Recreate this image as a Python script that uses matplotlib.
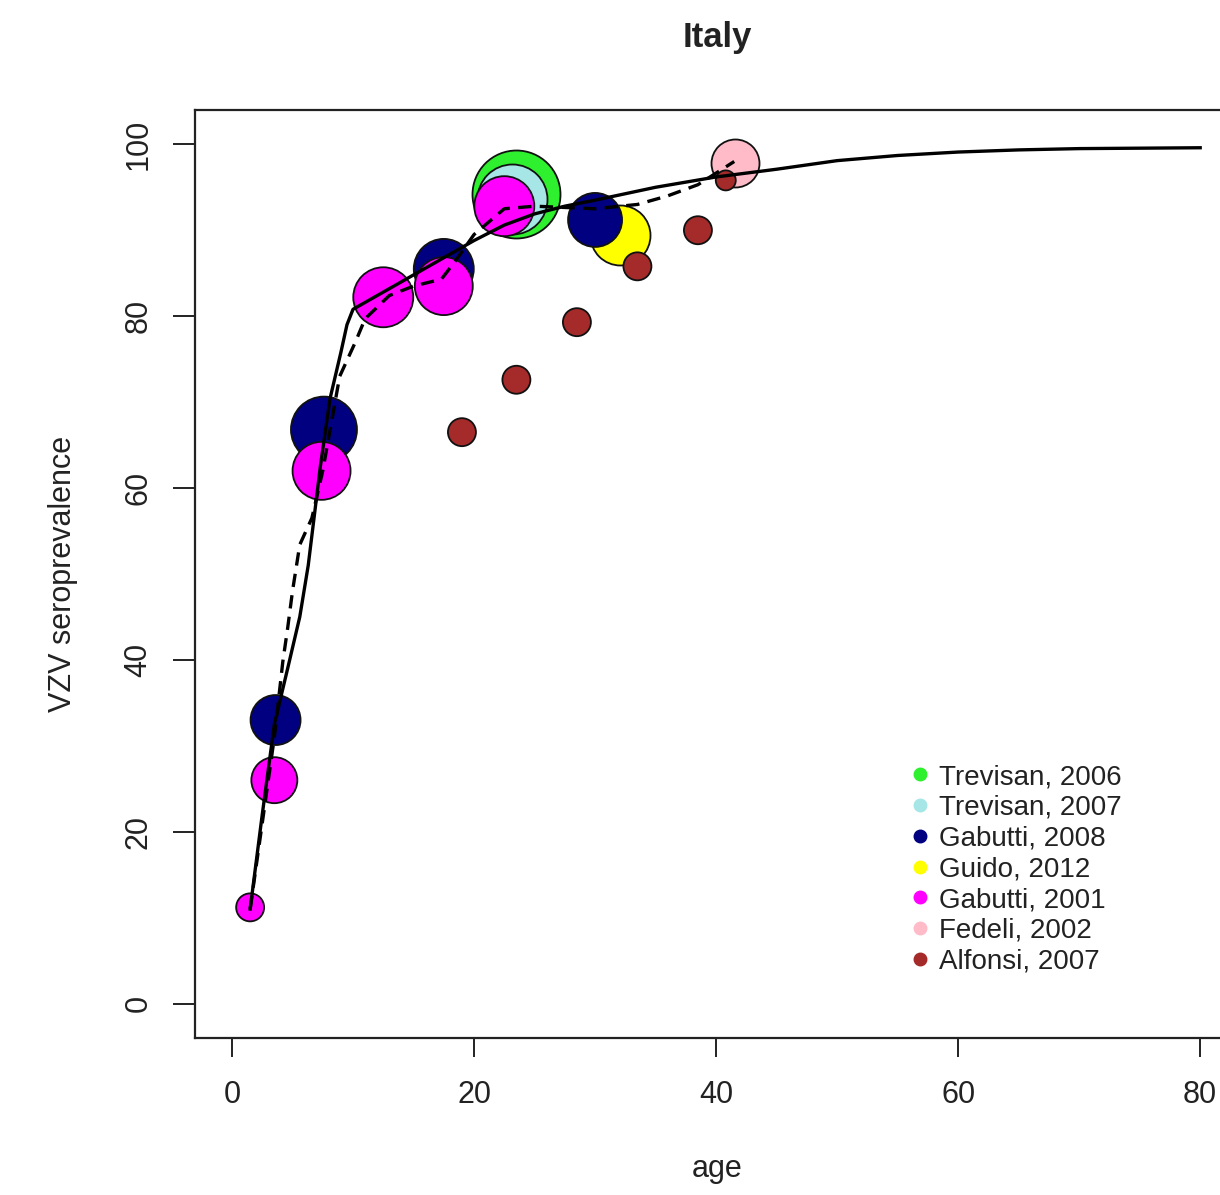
import matplotlib.pyplot as plt
from matplotlib.lines import Line2D

plt.rcParams['font.family'] = ['Liberation Sans', 'DejaVu Sans']

# study labels and colours (legend order)
studies = ['Trevisan, 2006', 'Trevisan, 2007', 'Gabutti, 2008', 'Guido, 2012',
           'Gabutti, 2001', 'Fedeli, 2002', 'Alfonsi, 2007']
colors = ['#2ef02e', '#a6e6e6', '#000080', '#ffff00', '#ff00ff', '#ffbcc8', '#a52a2a']

# observed seroprevalence by study: age midpoint, % positive, relative sample weight
trev06_age = [23.5]
trev06_prev = [94.2]
trev06_w = [44]

trev07_age = [23.1]
trev07_prev = [93.6]
trev07_w = [35]

gab08_age = [3.6, 7.6, 17.5, 30.0]
gab08_prev = [33.0, 66.8, 85.5, 91.2]
gab08_w = [25, 33, 30, 27]

guido_age = [32.1]
guido_prev = [89.4]
guido_w = [30]

gab01_age = [1.5, 3.5, 7.4, 12.5, 17.5, 22.5]
gab01_prev = [11.2, 26.0, 62.0, 82.2, 83.5, 92.8]
gab01_w = [14, 23, 29, 30, 29, 30]

fed_age = [41.6]
fed_prev = [97.8]
fed_w = [24]

alf_age = [19.0, 23.5, 28.5, 33.5, 38.5, 40.8]
alf_prev = [66.5, 72.6, 79.3, 85.8, 90.0, 95.8]
alf_w = [14, 14, 14, 14, 14, 10]

# fitted curves
fit_age = [1.5, 2.5, 3.5, 4.6, 5.6, 6.3, 7.3, 8.1, 9.0, 9.5, 10.0, 11.0, 12.5,
           15.0, 17.5, 20.0, 22.5, 25.0, 27.5, 30.0, 35.0, 40.0, 45.0, 50.0, 55.0,
           60.0, 65.0, 70.0, 80.0]
fit_prev = [11.0, 22.0, 32.5, 39.0, 45.0, 51.0, 62.5, 70.4, 75.8, 79.0, 80.8,
            81.6, 82.8, 84.8, 86.8, 88.8, 90.6, 91.9, 92.8, 93.5, 95.0, 96.2, 97.1,
            98.1, 98.7, 99.1, 99.35, 99.5, 99.6]

smooth_age = [1.5, 2.5, 3.5, 4.2, 4.6, 5.0, 5.6, 6.6, 7.5, 8.9, 10.2, 11.0, 13.0,
              15.0, 17.3, 18.5, 20.0, 22.5, 25.0, 30.0, 33.5, 36.0, 38.5, 41.5]
smooth_prev = [11.0, 21.0, 31.0, 39.8, 43.7, 48.0, 53.4, 56.5, 62.0, 73.0, 77.0, 79.7,
               82.4, 83.5, 84.3, 86.5, 89.5, 92.5, 92.8, 92.5, 93.0, 94.0, 95.3, 98.0]

fig = plt.figure(figsize=(12.2, 11.95), dpi=100)
ax = fig.add_axes([0.1598, 0.1314, 0.8557, 0.7766])

# radius in pixels -> scatter area in points^2
def area(w):
    return [(2 * r * 0.72) ** 2 for r in w]

groups = [
    (trev06_age, trev06_prev, trev06_w, colors[0], 1),
    (trev07_age, trev07_prev, trev07_w, colors[1], 2),
    (guido_age, guido_prev, guido_w, colors[3], 3),
    (gab08_age, gab08_prev, gab08_w, colors[2], 4),
    (gab01_age, gab01_prev, gab01_w, colors[4], 5),
    (fed_age, fed_prev, fed_w, colors[5], 6),
    (alf_age, alf_prev, alf_w, colors[6], 7),
]
for a, p, w, c, z in groups:
    ax.scatter(a, p, s=area(w), c=c, edgecolors='#111111', linewidths=1.3, zorder=z)

ax.plot(fit_age, fit_prev, color='black', lw=2.4, zorder=10)
ax.plot(smooth_age, smooth_prev, color='black', lw=2.4, ls=(0, (4, 2.5)), zorder=10)

ax.set_xlim(-3.06, 83.2)
ax.set_ylim(-4, 104)
ax.set_xticks([0, 20, 40, 60, 80])
ax.set_yticks([0, 20, 40, 60, 80, 100])
for s in ax.spines.values():
    s.set_linewidth(1.6)
    s.set_color('#222222')

ax.tick_params(axis='x', length=14, width=1.4, pad=16, labelsize=22,
               colors='#222222')
ax.tick_params(axis='y', length=16, width=1.4, pad=14, labelsize=22,
               colors='#222222', labelrotation=90)
for lab in ax.get_yticklabels():
    lab.set_va('center')

ax.set_title('Italy', fontsize=25, fontweight='bold', pad=45, color='#222222')
ax.set_xlabel('age', fontsize=22, color='#222222')
ax.set_ylabel('VZV seroprevalence', fontsize=22, color='#222222')
ax.xaxis.set_label_coords(0.5, -0.125)
ax.yaxis.set_label_coords(-0.112, 0.5)

handles = [Line2D([], [], marker='o', ls='', color=c, markersize=9) for c in colors]
ax.legend(handles, studies, loc='upper left', bbox_to_anchor=(0.6705, 0.307),
          frameon=False, fontsize=20, handletextpad=0.2, labelspacing=0.17,
          handlelength=1.0, borderaxespad=0, labelcolor='#222222')

plt.savefig('out.png')
